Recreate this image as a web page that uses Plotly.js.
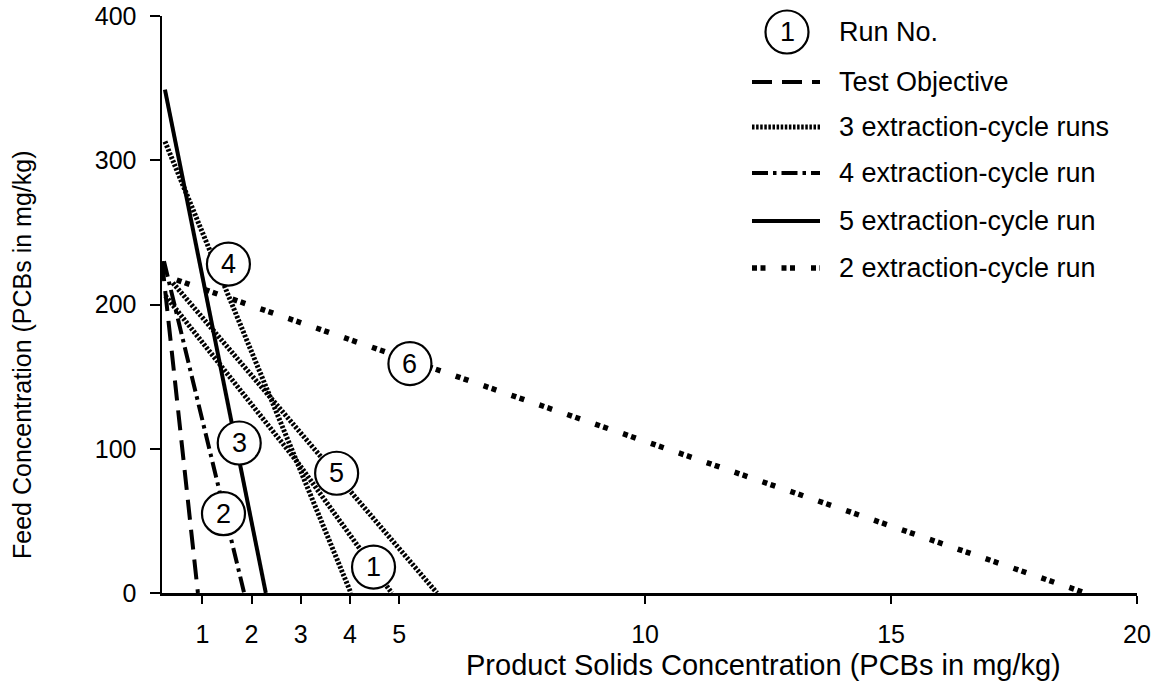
<!DOCTYPE html>
<html>
<head>
<meta charset="utf-8">
<script src="https://cdn.plot.ly/plotly-3.0.1.min.js"></script>
<style>html,body{margin:0;padding:0;background:#fff;}#chart{width:1158px;height:694px;}</style>
</head>
<body>
<div id="chart"></div>
<script>
// ---- data ----
const testObjectiveX = [0.18, 0.91];
const testObjectiveY = [230, 0];

const run1X = [0.25, 2.95, 4.85];      // 3 extraction-cycle
const run1Y = [206, 90, 0];
const run4X = [0.24, 4.02];            // 3 extraction-cycle
const run4Y = [313, 0];
const run5X = [0.40, 5.77];            // 3 extraction-cycle
const run5Y = [215, 0];

const run2X = [0.22, 1.85];            // 4 extraction-cycle
const run2Y = [230, 0];
const run3X = [0.24, 2.29];            // 5 extraction-cycle
const run3Y = [349, 0];
const run6X = [0.48, 18.95];           // 2 extraction-cycle
const run6Y = [217, 0];

const runLabels = ['1', '2', '3', '4', '5', '6'];
const runLabelX = [4.48, 1.43, 1.75, 1.53, 3.73, 5.22];
const runLabelY = [18, 55, 104, 228, 83, 159];

const xTickVals = [1, 2, 3, 4, 5, 10, 15, 20];
const yTickVals = [0, 100, 200, 300, 400];

const legendLabels = ['Test Objective', '3 extraction-cycle runs', '4 extraction-cycle run',
                      '5 extraction-cycle run', '2 extraction-cycle run'];

// ---- styles ----
const FONT = 'Liberation Sans, Arial, Helvetica, sans-serif';
const styles = {
  objective: {color: '#000', width: 4,   dash: '20px,10px'},
  three:     {color: '#000', width: 5,   dash: '2.5px,1.6px'},
  four:      {color: '#000', width: 4,   dash: '16px,5px,3.5px,5px'},
  five:      {color: '#000', width: 4,   dash: 'solid'},
  two:       {color: '#000', width: 5.5, dash: '5px,3.5px,5px,16px'}
};

function tr(x, y, line) {
  return {x: x, y: y, type: 'scatter', mode: 'lines', line: line,
          showlegend: false, hoverinfo: 'skip', cliponaxis: false};
}

const traces = [
  tr(testObjectiveX, testObjectiveY, styles.objective),
  tr(run1X, run1Y, styles.three),
  tr(run4X, run4Y, styles.three),
  tr(run5X, run5Y, styles.three),
  tr(run2X, run2Y, styles.four),
  tr(run3X, run3Y, styles.five),
  tr(run6X, run6Y, styles.two)
];

const R = 21.5;
const shapes = [];
const annotations = [];

runLabels.forEach((t, i) => {
  shapes.push({type: 'circle', xref: 'x', yref: 'y', xsizemode: 'pixel', ysizemode: 'pixel',
    xanchor: runLabelX[i], yanchor: runLabelY[i], x0: -R, x1: R, y0: -R, y1: R,
    line: {color: '#000', width: 2.2}, fillcolor: '#fff', layer: 'above'});
  annotations.push({x: runLabelX[i], y: runLabelY[i], xref: 'x', yref: 'y', text: t,
    xanchor: 'center', yanchor: 'middle',
    showarrow: false, font: {family: FONT, size: 27, color: '#000'}});
});

// ---- custom legend (paper coords; plot area 162..1137 x 16..593 px) ----
const px2x = p => (p - 162) / 975;
const py2y = p => (593 - p) / 577;

shapes.push({type: 'circle', xref: 'paper', yref: 'paper', xsizemode: 'pixel', ysizemode: 'pixel',
  xanchor: px2x(787), yanchor: py2y(32), x0: -R, x1: R, y0: -R, y1: R,
  line: {color: '#000', width: 2.2}, fillcolor: '#fff'});
annotations.push({x: px2x(787), y: py2y(32), xref: 'paper', yref: 'paper', text: '1',
  xanchor: 'center', yanchor: 'middle',
  showarrow: false, font: {family: FONT, size: 27, color: '#000'}});
annotations.push({x: px2x(837), y: py2y(32), xref: 'paper', yref: 'paper', text: 'Run No.',
  xanchor: 'left', yanchor: 'middle', showarrow: false, font: {family: FONT, size: 27, color: '#000'}});

const legendRows = [82, 127, 173, 221, 268];
const legendStyles = [styles.objective, styles.three, styles.four, styles.five, styles.two];
legendLabels.forEach((lab, i) => {
  shapes.push({type: 'line', xref: 'paper', yref: 'paper',
    x0: px2x(752), x1: px2x(820), y0: py2y(legendRows[i]), y1: py2y(legendRows[i]),
    line: legendStyles[i]});
  annotations.push({x: px2x(837), y: py2y(legendRows[i]), xref: 'paper', yref: 'paper', text: lab,
    xanchor: 'left', yanchor: 'middle', showarrow: false, font: {family: FONT, size: 27, color: '#000'}});
});

// axis titles as annotations (offset like the reference)
annotations.push({x: px2x(763), y: py2y(665), xref: 'paper', yref: 'paper',
  xanchor: 'center', yanchor: 'middle',
  text: 'Product Solids Concentration (PCBs in mg/kg)', showarrow: false,
  font: {family: FONT, size: 29, color: '#000'}});
annotations.push({x: px2x(22), y: py2y(355), xref: 'paper', yref: 'paper',
  xanchor: 'center', yanchor: 'middle',
  text: 'Feed Concentration (PCBs in mg/kg)', textangle: -90, showarrow: false,
  font: {family: FONT, size: 25, color: '#000'}});

const layout = {
  width: 1158, height: 694,
  margin: {l: 162, r: 21, t: 16, b: 101, pad: 0},
  paper_bgcolor: '#fff', plot_bgcolor: '#fff',
  font: {family: FONT, color: '#000'},
  showlegend: false,
  xaxis: {
    range: [0.18, 20], tickvals: xTickVals, ticktext: xTickVals.map(String),
    showgrid: false, zeroline: false, showline: true, linecolor: '#000', linewidth: 2.5,
    ticks: 'outside', ticklen: 8, tickwidth: 2, tickcolor: '#000',
    tickfont: {family: FONT, size: 25, color: '#000'}, ticklabelstandoff: 9, fixedrange: true
  },
  yaxis: {
    range: [0, 400], tickvals: yTickVals, ticktext: yTickVals.map(String),
    showgrid: false, zeroline: false, showline: true, linecolor: '#000', linewidth: 2.5,
    ticks: 'outside', ticklen: 10, tickwidth: 2, tickcolor: '#000',
    tickfont: {family: FONT, size: 25, color: '#000'}, ticklabelstandoff: 8, fixedrange: true
  },
  shapes: shapes,
  annotations: annotations
};

Plotly.newPlot('chart', traces, layout, {displayModeBar: false, staticPlot: true});
</script>
</body>
</html>
